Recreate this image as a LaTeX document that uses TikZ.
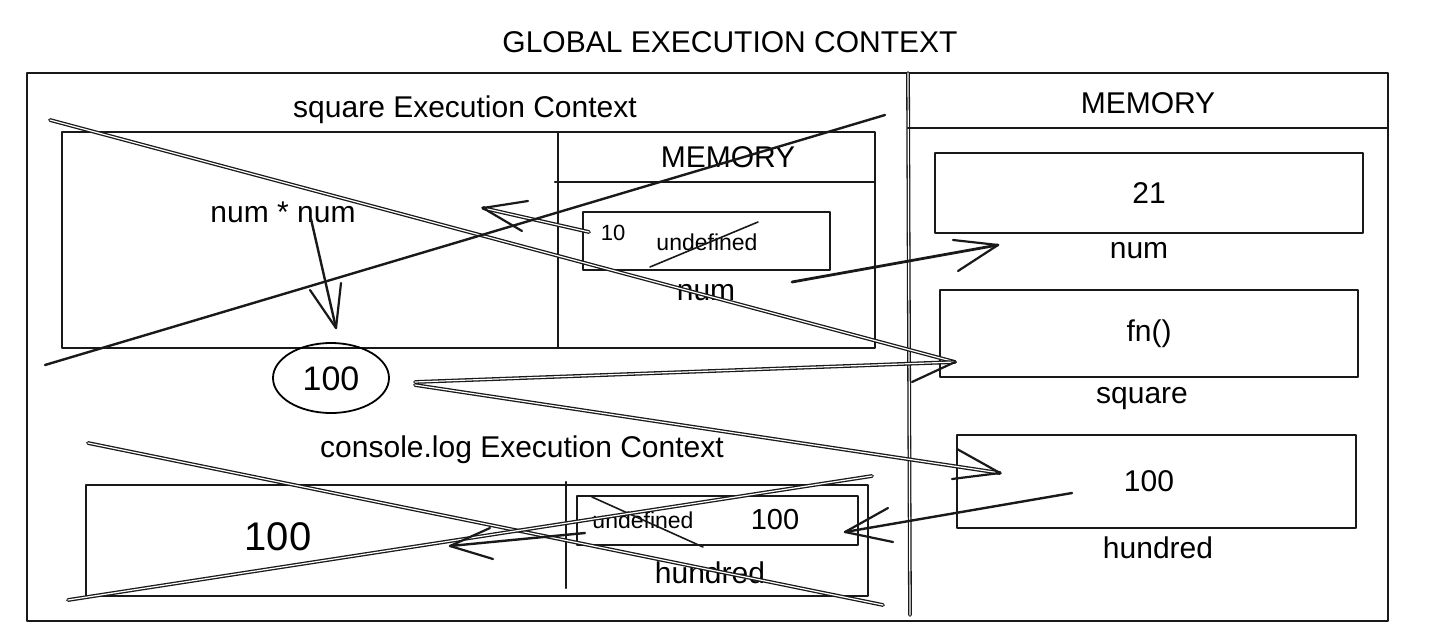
\documentclass[tikz,border=0pt]{standalone}
\usepackage{fontspec}
\setmainfont{Liberation Sans}
\begin{document}
\begin{tikzpicture}[x=0.5pt,y=-0.5pt,line join=round,line cap=round]
\tikzset{
  sk/.style={line width=1.2pt,black!90},
  thinl/.style={line width=0.8pt,black!90},
  dbl/.style={double=white,double distance=0.6pt,line width=0.65pt,black!90},
  lbl/.style={font=\fontsize{15}{18}\selectfont,inner sep=0pt},
  small/.style={font=\fontsize{11.5}{14}\selectfont,inner sep=0pt},
  barb/.style={line width=1.1pt,black!90}
}
\useasboundingbox (0,0) rectangle (1440,637);

% ---------- global frame ----------
\node[lbl] (title) at (730,42) {GLOBAL EXECUTION CONTEXT};
\draw[sk] (27,73) rectangle (1388,621);
\draw[dbl] (908,73) -- (910,615);
\draw[sk] (908,128) -- (1388,128);
\node[lbl] (gmem) at (1148,103) {MEMORY};

% ---------- global memory ----------
\draw[sk] (935,153) rectangle (1363,233);
\node[lbl] (v21) at (1149,193) {21};
\node[lbl] (knum) at (1139,251) {num};
\draw[sk] (940,290) rectangle (1358,377);
\node[lbl] (vfn) at (1149,334) {fn()};
\node[lbl] (ksq) at (1142,399) {square};
\draw[sk] (957,435) rectangle (1356,528);
\node[lbl] (vhun) at (1149,481) {100};
\node[lbl] (khun) at (1158,548) {hundred};

% ---------- square execution context ----------
\node[lbl] (sqt) at (465,110) {square Execution Context};
\draw[sk] (62,132) rectangle (875,348);
\draw[sk] (558,132) -- (558,348);
\draw[sk] (555,182) -- (875,182);
\node[lbl] (smem) at (728,157) {MEMORY};
\draw[sk] (583,212) rectangle (830,270);
\node[small,font=\fontsize{11}{13}\selectfont] (s10) at (613,233) {10};
\node[small] (sundef) at (707,242) {undefined};
\draw[thinl] (650,267) -- (758,222);
\node[lbl] (snum) at (706,293) {num};
\node[lbl] (expr) at (283,212) {num * num};
\draw[line width=0.9pt] (331,378) ellipse [x radius=29pt,y radius=17.5pt];
\node[font=\fontsize{17}{20}\selectfont,inner sep=0pt] (c100) at (331,379) {100};

% arrow num*num -> 100
\coordinate (a1s) at (311,219); \coordinate (a1t) at (336,328);
\draw[sk] (a1s) -- (a1t);
\draw[barb] (310,290) -- (a1t) -- (341,283);

% arrow 10 -> left
\coordinate (a2s) at (589,232); \coordinate (a2t) at (483,208);
\draw[dbl] (a2s) -- (a2t);
\draw[barb] (528,201) -- (a2t) -- (522,231);

% arrow num -> global num
\coordinate (a3s) at (792,282); \coordinate (a3t) at (998,245);
\draw[sk,line width=1.4pt] (a3s) -- (a3t);
\draw[barb] (953,240) -- (a3t) -- (958,271);

% strike X over square context
\coordinate (fnt) at (955,362);
\draw[dbl] (50,120) -- (fnt);
\draw[sk] (45,365) -- (885,115);

% arrow 100 -> fn()
\coordinate (a4s) at (415,382);
\draw[dbl] (a4s) -- (fnt);
\draw[barb] (912,382) -- (fnt);

% arrow 100 -> hundred
\coordinate (a5s) at (415,385); \coordinate (a5t) at (1000,473);
\draw[dbl] (a5s) -- (a5t);
\draw[barb] (957,449) -- (a5t) -- (952,479);

% ---------- console.log execution context ----------
\node[lbl] (clt) at (522,450) {console.log Execution Context};
\draw[sk] (86,485) rectangle (868,596);
\draw[sk] (566,482) -- (566,588);
\draw[sk] (577,496) rectangle (858,545);
\node[small] (cundef) at (643,520) {undefined};
\node[font=\fontsize{14.5}{17}\selectfont,inner sep=0pt] (c100m) at (775,520) {100};
\draw[thinl] (592,497) -- (703,547);
\node[lbl] (chun) at (710,573) {hundred};
\node[font=\fontsize{20}{24}\selectfont,inner sep=0pt] (cout) at (278,537) {100};

% strike X over console context
\draw[dbl] (88,443) -- (883,605);
\draw[dbl] (68,600) -- (872,476);

% arrow hundred -> console memory
\coordinate (a6s) at (1072,493); \coordinate (a6t) at (845,532);
\draw[sk] (a6s) -- (a6t);
\draw[barb] (888,508) -- (a6t) -- (893,542);

% arrow console memory -> output
\coordinate (a7s) at (585,533); \coordinate (a7t) at (450,546);
\draw[sk] (a7s) -- (a7t);
\draw[barb] (490,528) -- (a7t) -- (493,559);
\end{tikzpicture}
\end{document}
